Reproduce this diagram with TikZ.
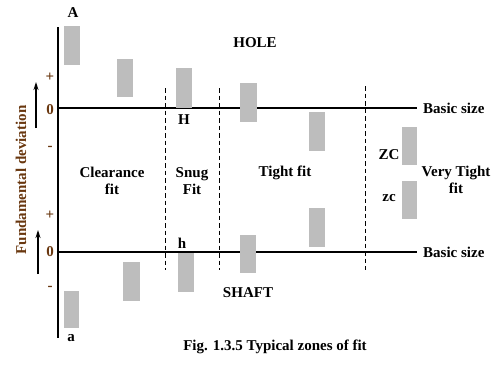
\documentclass[tikz,border=0pt]{standalone}
\usepackage{fontspec}
\setmainfont{Liberation Serif}
\usepackage{xcolor}
\usepackage{tikz}
\usetikzlibrary{arrows.meta, positioning}
\definecolor{devbrown}{RGB}{105,55,15}

\begin{document}
\begin{tikzpicture}[
    x=1pt, y=-1pt,
    font=\fontsize{15}{17}\selectfont\bfseries,
    % tolerance zones - stippled gray
    zone/.style={fill=black!26, draw=none},
    refline/.style={line width=1.6pt},
    divider/.style={line width=1pt, dash pattern=on 4.5pt off 3pt},
    sign/.style={text=devbrown, inner sep=0pt},
    lbl/.style={inner sep=0pt, align=center},
    uparrow/.style={-{Stealth[length=8pt, width=5pt]}, line width=1.6pt},
]
\useasboundingbox (0,0) rectangle (500,364);

% Axis and basic size lines
\coordinate (axtop) at (58,27);
\coordinate (axbot) at (58,338);
\coordinate (holeend) at (417,108);
\coordinate (shaftend) at (417,252);
\draw[refline] (axtop) -- (axbot);
\draw[refline] (58,108) -- (holeend);
\draw[refline] (58,252) -- (shaftend);
\node[lbl, right=6pt of holeend] (holebasic) {Basic size};
\node[lbl, right=6pt of shaftend] (shaftbasic) {Basic size};

% Zone dividers
\draw[divider] (165,88) -- (165,270);
\draw[divider] (219,88) -- (219,270);
\draw[divider] (365,86) -- (365,270);

% Hole zones
\fill[zone] (64,26) rectangle (80,65);
\fill[zone] (117,59) rectangle (133,97);
\fill[zone] (176,68) rectangle (192,108);
\fill[zone] (240,83) rectangle (257,122);
\fill[zone] (309,112) rectangle (325,151);
\fill[zone] (402,127) rectangle (417,165);

% Shaft zones
\fill[zone] (64,291) rectangle (79,328);
\fill[zone] (123,262) rectangle (140,301);
\fill[zone] (178,253) rectangle (194,292);
\fill[zone] (240,235) rectangle (256,273);
\fill[zone] (309,208) rectangle (325,247);
\fill[zone] (402,181) rectangle (417,219);

% Deviation signs and arrows
\node[sign] (hplus) at (50,77) {+};
\node[sign] (hzero) at (50,110) {0};
\node[sign] (hminus) at (50,148) {-};
\node[sign] (splus) at (50,215) {+};
\node[sign] (szero) at (50,252) {0};
\node[sign] (sminus) at (50,288) {-};
\coordinate (harrow) at (36,128);
\coordinate (sarrow) at (38,274);
\draw[uparrow] (harrow) -- ++(0,-46);
\draw[uparrow] (sarrow) -- ++(0,-44);
\node[lbl, text=devbrown, rotate=90] (fundev) at (21,180) {Fundamental deviation};

% Zone letters
\node[lbl] (bigA) at (73,13) {A};
\node[lbl] (smalla) at (71,338) {a};
\node[lbl] (bigH) at (184,120) {H};
\node[lbl] (smallh) at (182,243) {h};
\node[lbl] (bigZC) at (389,155) {ZC};
\node[lbl] (smallzc) at (389,198) {zc};
\node[lbl] (hole) at (255,43) {HOLE};
\node[lbl] (shaft) at (248,293) {SHAFT};

% Fit zones
\node[lbl] (clearance) at (112,181) {Clearance\\fit};
\node[lbl] (snug) at (192,181) {Snug\\Fit};
\node[lbl] (tight) at (285,173) {Tight fit};
\node[lbl] (vtight) at (456,180) {Very Tight\\fit};

% Caption
\node[lbl] (caption) at (275,347) {Fig. 1.3.5 Typical zones of fit};

\end{tikzpicture}
\end{document}
